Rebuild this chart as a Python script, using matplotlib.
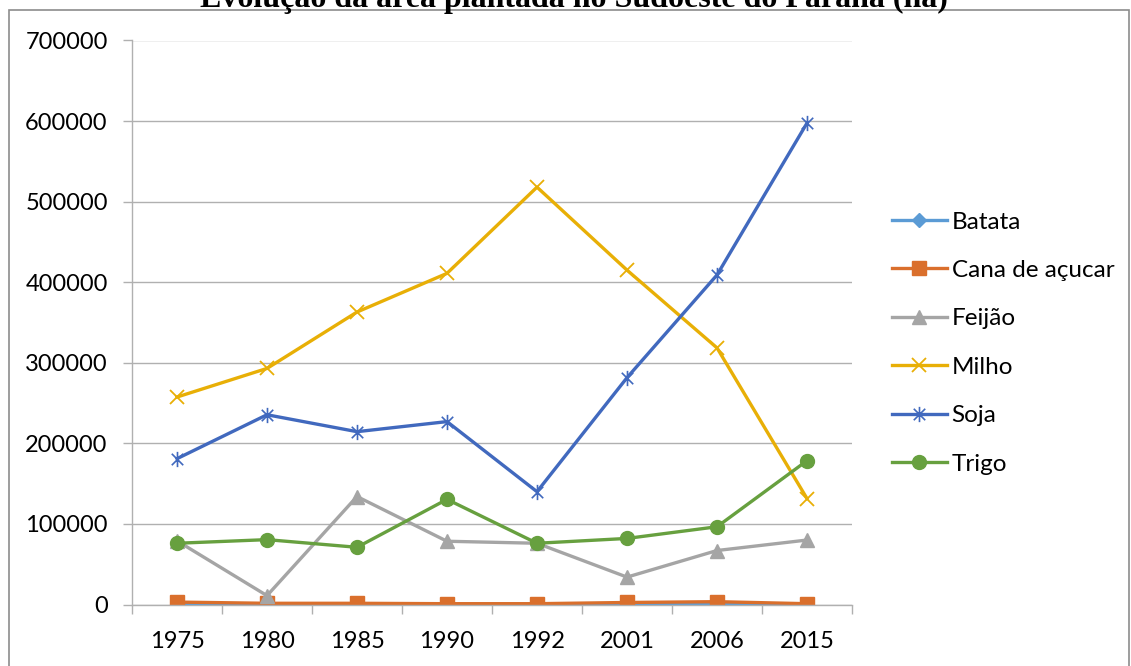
import matplotlib
matplotlib.use("Agg")
import matplotlib.pyplot as plt
from matplotlib.path import Path
from matplotlib.patches import Rectangle

years = ["1975", "1980", "1985", "1990", "1992", "2001", "2006", "2015"]
batata = [800, 600, 500, 400, 400, 500, 700, 500]
cana = [3000, 1500, 1500, 1000, 1000, 2500, 3500, 1000]
feijao = [79000, 11000, 134000, 78500, 76000, 34000, 67000, 80000]
milho = [257500, 293000, 363000, 411000, 518000, 415000, 318500, 131500]
soja = [181000, 235500, 214500, 227000, 140000, 281500, 409000, 597500]
trigo = [76000, 80500, 71000, 130500, 76000, 82000, 96500, 178500]
series_names = ["Batata", "Cana de açucar", "Feijão", "Milho", "Soja", "Trigo"]
title = "Evolução da área plantada no Sudoeste do Paraná (ha)"

W, H = 1131, 666
fig = plt.figure(figsize=(W / 100, H / 100), dpi=100)
plt.rcParams['font.family'] = ['Lato', 'DejaVu Sans']

ax = fig.add_axes([132 / W, 1 - 604.5 / H, 720 / W, 564 / H])

star = Path([(0, -1), (0, 1), (-0.75, -0.75), (0.75, 0.75), (-0.75, 0.75), (0.75, -0.75)],
            [Path.MOVETO, Path.LINETO, Path.MOVETO, Path.LINETO, Path.MOVETO, Path.LINETO])

styles = [
    dict(color="#5B9BD5", marker="D", ms=7),
    dict(color="#DA6F2C", marker="s", ms=10),
    dict(color="#A5A5A5", marker="^", ms=10),
    dict(color="#E8AF06", marker="x", ms=10, mew=1.3),
    dict(color="#4169BE", marker=star, ms=11, mew=1.2),
    dict(color="#67A03F", marker="o", ms=10),
]
data = [batata, cana, feijao, milho, soja, trigo]
x = list(range(len(years)))
for name, vals, st in zip(series_names, data, styles):
    ax.plot(x, vals, label=name, lw=2.4, solid_joinstyle="round", **st)

ax.set_xlim(-0.5, len(years) - 0.5)
ax.set_ylim(0, 700000)
ax.set_yticks(range(0, 700001, 100000))
ax.set_yticklabels([str(v) for v in range(0, 700001, 100000)])
ax.set_xticks(x)
ax.set_xticklabels(years)
ax.set_xticks([i - 0.5 for i in range(len(years) + 1)], minor=True)
ax.tick_params(axis="x", which="major", length=0, pad=19, labelsize=17)
ax.tick_params(axis="x", which="minor", length=6.5, width=1, color="#B0B0B0", direction="out")
ax.tick_params(axis="y", length=6.5, width=1, color="#B0B0B0", pad=11, labelsize=17)
ax.grid(axis="y", color="#B0B0B0", lw=1)
ax.set_axisbelow(True)
for s in ["top", "right"]:
    ax.spines[s].set_visible(False)
for s in ["left", "bottom"]:
    ax.spines[s].set_color("#B0B0B0")
    ax.spines[s].set_linewidth(1)

leg = fig.legend(loc="upper left", bbox_to_anchor=(892 / W, 1 - 211.5 / H), frameon=False,
                 fontsize=17.5, handlelength=2.25, handletextpad=0.2, labelspacing=1.13,
                 borderaxespad=0, borderpad=0)

fig.add_artist(Rectangle((9 / W, -0.1), 1120 / W, 1.1 - 10.5 / H, transform=fig.transFigure,
                         fill=False, edgecolor="#8C8C8C", lw=1.2))
fig.text(574 / W, 1 - 7 / H, title, ha="center", va="baseline",
         fontfamily="Liberation Serif", fontweight="bold", fontsize=23)

fig.savefig("out.png", dpi=100)
